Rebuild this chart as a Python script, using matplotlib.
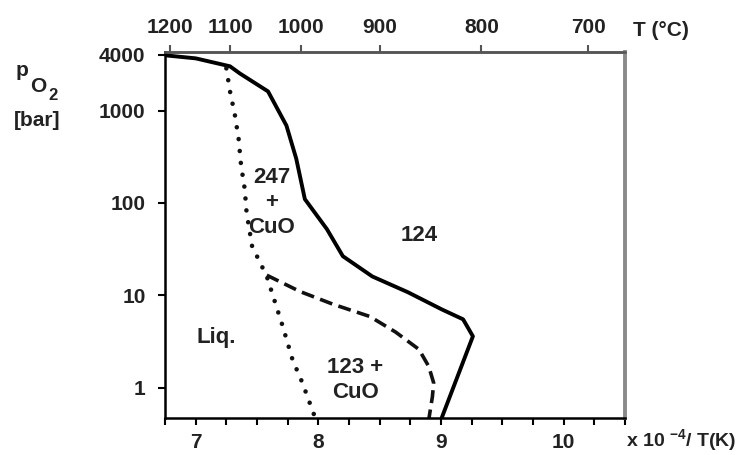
import matplotlib.pyplot as plt
from matplotlib.ticker import MultipleLocator, NullLocator

plt.rcParams['font.family'] = ['Liberation Sans', 'DejaVu Sans']
plt.rcParams['font.weight'] = 'bold'
plt.rcParams['mathtext.fontset'] = 'custom'
plt.rcParams['mathtext.rm'] = 'Liberation Sans:bold'

# boundary curves, x = 10^4/T(K), y = pO2 (bar)
solid_x = [6.75, 7.00, 7.28, 7.36, 7.59, 7.74, 7.82, 7.89, 8.07, 8.20, 8.44, 8.73, 9.01, 9.18, 9.26, 9.00]
solid_y = [3960, 3670, 3010, 2520, 1610, 687, 301, 110, 52, 26.5, 16, 10.8, 7.0, 5.5, 3.6, 0.45]

dotted_x = [7.25, 7.28, 7.32, 7.35, 7.37, 7.40, 7.415, 7.46, 7.58, 7.71, 7.79, 7.87, 7.98]
dotted_y = [2860, 1610, 890, 496, 256, 141, 79, 34, 16, 4.6, 2.0, 1.13, 0.45]

dashed_x = [7.58, 7.85, 8.12, 8.42, 8.63, 8.82, 8.90, 8.94, 8.93, 8.90]
dashed_y = [16.5, 11.0, 8.0, 5.9, 4.0, 2.6, 1.7, 1.13, 0.8, 0.45]

# axis ticks
y_ticks = [1, 10, 100, 1000, 4000]
x_ticks = [7, 8, 9, 10]
top_labels = ['1200', '1100', '1000', '900', '800', '700']
top_pos = [6.79, 7.28, 7.86, 8.50, 9.33, 10.20]

# region labels
regions = ['247\n+\nCuO', '124', 'Liq.', '123 +\nCuO']
reg_x = [7.62, 8.82, 7.17, 8.30]
reg_y = [100, 44, 3.5, 1.22]

fig = plt.figure(figsize=(7.52, 4.55), dpi=100)
ax = fig.add_axes([165 / 752, 37 / 455, 460 / 752, 366 / 455])

ax.plot(solid_x, solid_y, color='black', lw=2.8, solid_joinstyle='round')
ax.plot(dotted_x, dotted_y, color='#111111', lw=3.3, linestyle=(0, (0.01, 2.6)),
        dash_capstyle='round')
ax.plot(dashed_x, dashed_y, color='#111111', lw=2.6, linestyle=(0, (3.6, 1.8)))

ax.set_yscale('log')
ax.set_xlim(6.75, 10.5)
ax.set_ylim(0.47, 4300)

ax.set_yticks(y_ticks)
ax.set_yticklabels([str(v) for v in y_ticks])
ax.yaxis.set_minor_locator(NullLocator())
ax.set_xticks(x_ticks)
ax.set_xticklabels([str(v) for v in x_ticks])
ax.xaxis.set_minor_locator(MultipleLocator(0.25))

ax.tick_params(axis='y', length=5, width=1.5, pad=9, labelsize=15, labelcolor='#222222')
ax.tick_params(axis='x', which='both', length=5, width=1.5, pad=6, labelsize=15,
               labelcolor='#222222')

for s in ['left', 'bottom']:
    ax.spines[s].set_linewidth(1.8)
    ax.spines[s].set_color('black')
ax.spines['right'].set_linewidth(2.8)
ax.spines['right'].set_color('#8a8a8a')
ax.spines['top'].set_linewidth(1.8)
ax.spines['top'].set_color('#555555')

top = ax.secondary_xaxis('top')
top.set_xticks(top_pos)
top.set_xticklabels(top_labels)
top.tick_params(length=5, width=1.5, pad=6, labelsize=15, labelcolor='#222222',
                color='#555555')
top.spines['top'].set_linewidth(1.8)
top.spines['top'].set_color('#555555')

for t, x, y in zip(regions, reg_x, reg_y):
    ax.text(x, y, t, ha='center', va='center', fontsize=16, color='#222222',
            linespacing=1.25, multialignment='center')

# axis captions
fig.text(633 / 752, 1 - 31 / 455, 'T (°C)', ha='left', va='center', fontsize=15,
         color='#222222')
fig.text(626 / 752, 1 - 441 / 455, 'x 10 $^{\\mathregular{-4}}$/ T(K)', ha='left',
         va='center', fontsize=14, color='#222222')
fig.text(22 / 752, 1 - 70 / 455, 'p', ha='center', va='center', fontsize=15, color='#222222')
fig.text(38 / 752, 1 - 87 / 455, 'O', ha='center', va='center', fontsize=15, color='#222222')
fig.text(53 / 752, 1 - 96 / 455, '2', ha='center', va='center', fontsize=12, color='#222222')
fig.text(37 / 752, 1 - 121 / 455, '[bar]', ha='center', va='center', fontsize=15,
         color='#222222')

plt.savefig('out.png', dpi=100)
